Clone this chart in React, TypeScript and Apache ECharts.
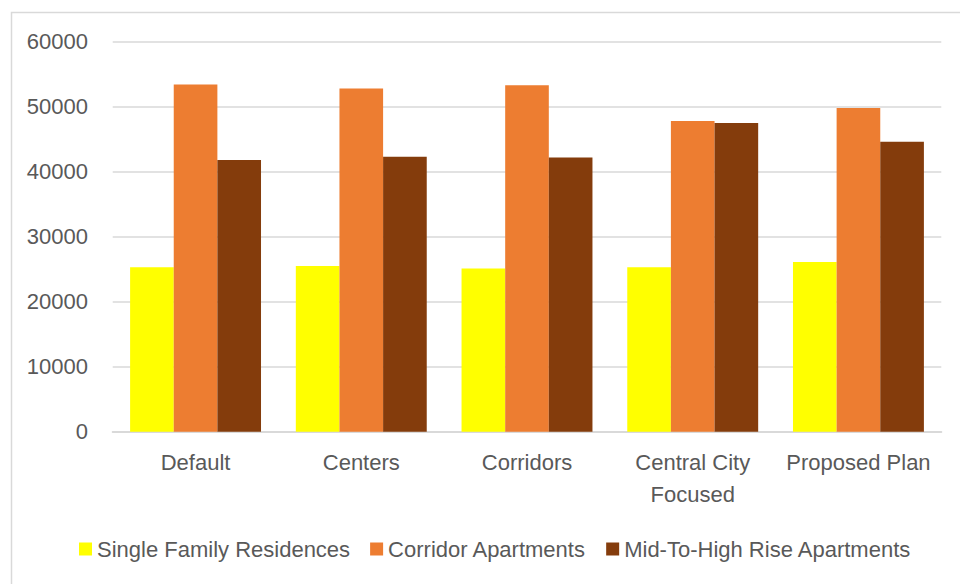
import React, { useEffect, useRef } from "react";
import * as echarts from "echarts";

const categories = ["Default", "Centers", "Corridors", "Central City\nFocused", "Proposed Plan"];
const seriesNames = ["Single Family Residences", "Corridor Apartments", "Mid-To-High Rise Apartments"];
const singleFamily = [25300, 25500, 25100, 25300, 26100];
const corridorApts = [53400, 52800, 53300, 47800, 49800];
const midHighRise = [41800, 42300, 42200, 47500, 44600];
const colors = ["#FFFF00", "#ED7D31", "#843C0C"];
const yTicks = { min: 0, max: 60000, interval: 10000 };

const FONT = "'Liberation Sans', Arial, sans-serif";
const TEXT = "#595959";

export default function App() {
  const ref = useRef<HTMLDivElement>(null);
  useEffect(() => {
    if (!ref.current) return;
    const chart = echarts.init(ref.current, undefined, { renderer: "svg" });
    const data = [singleFamily, corridorApts, midHighRise];
    chart.setOption({
      animation: false,
      backgroundColor: "#ffffff",
      textStyle: { fontFamily: FONT },
      graphic: [
        {
          type: "rect",
          shape: { x: 11.5, y: 12.5, width: 1000, height: 700 },
          style: { fill: "none", stroke: "#d9d9d9", lineWidth: 1.5 },
          silent: true,
        },
      ],
      grid: { left: 112.7, right: 18.7, top: 41.7, bottom: 152.3, containLabel: false },
      legend: {
        data: seriesNames,
        left: 79,
        top: 538,
        padding: 0,
        itemWidth: 13,
        itemHeight: 13,
        itemGap: 20,
        icon: "rect",
        textStyle: { fontFamily: FONT, fontSize: 22, color: TEXT },
      },
      xAxis: {
        type: "category",
        data: categories,
        axisLine: { lineStyle: { color: "#d9d9d9", width: 2 } },
        axisTick: { show: false },
        axisLabel: {
          color: TEXT,
          fontFamily: FONT,
          fontSize: 22,
          lineHeight: 32,
          margin: 15,
          interval: 0,
        },
      },
      yAxis: {
        type: "value",
        min: yTicks.min,
        max: yTicks.max,
        interval: yTicks.interval,
        axisLine: { show: false },
        axisTick: { show: false },
        splitLine: { lineStyle: { color: "#d9d9d9", width: 1.5 } },
        axisLabel: {
          color: TEXT,
          fontFamily: FONT,
          fontSize: 22,
          margin: 24.7,
          formatter: (v: number) => String(v),
        },
      },
      series: seriesNames.map((name, i) => ({
        name,
        type: "bar",
        data: data[i],
        barGap: "0%",
        barCategoryGap: "21%",
        itemStyle: { color: colors[i] },
      })),
    });
    return () => chart.dispose();
  }, []);
  return (
    <div
      ref={ref}
      style={{ position: "absolute", left: 0, top: 0, width: 960, height: 584 }}
    />
  );
}
